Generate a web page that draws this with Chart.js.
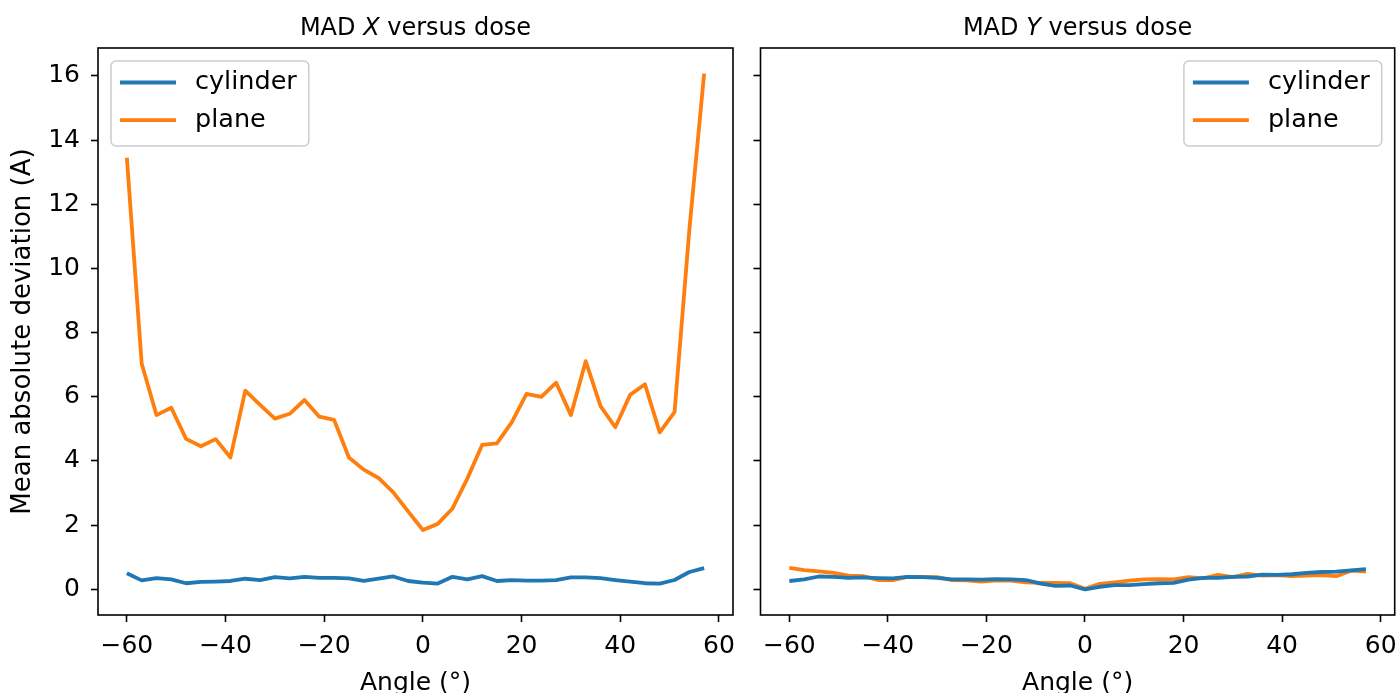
<!DOCTYPE html>
<html><head><meta charset="utf-8">
<script src="https://cdn.jsdelivr.net/npm/chart.js@4/dist/chart.umd.min.js"></script>
<style>
html,body{margin:0;padding:0;background:#fff;overflow:hidden}
#wrap{position:relative;width:1399px;height:693px;background:#fff}
.c{position:absolute;top:0;height:693px}
canvas{display:block}
</style></head><body>
<div id="wrap">
<div class="c" style="left:0;width:745px"><canvas id="left" width="745" height="693"></canvas></div>
<div class="c" style="left:745px;width:654px"><canvas id="right" width="654" height="693"></canvas></div>
</div>
<script>
// ---- data ----
const angles = [-60,-57,-54,-51,-48,-45,-42,-39,-36,-33,-30,-27,-24,-21,-18,-15,-12,-9,-6,-3,
                0,3,6,9,12,15,18,21,24,27,30,33,36,39,42,45,48,51,54,57];
const cylinderX = [0.50,0.28,0.35,0.31,0.19,0.23,0.24,0.26,0.33,0.29,
                   0.38,0.34,0.39,0.36,0.36,0.34,0.26,0.33,0.40,0.26,
                   0.21,0.18,0.39,0.31,0.41,0.26,0.29,0.27,0.27,0.29,
                   0.37,0.37,0.35,0.29,0.24,0.19,0.18,0.29,0.54,0.66];
const planeX = [13.45,7.04,5.43,5.66,4.69,4.46,4.68,4.11,6.19,5.75,
                5.32,5.47,5.90,5.38,5.28,4.11,3.73,3.47,3.02,2.43,
                1.85,2.04,2.52,3.45,4.50,4.55,5.20,6.09,6.00,6.44,
                5.43,7.11,5.71,5.05,6.06,6.39,4.89,5.52,11.2,16.07];
const cylinderY = [0.26,0.31,0.40,0.39,0.36,0.37,0.35,0.34,0.39,0.38,
                   0.36,0.31,0.31,0.30,0.32,0.31,0.29,0.18,0.11,0.12,
                   0.00,0.08,0.13,0.13,0.16,0.19,0.20,0.30,0.36,0.36,
                   0.39,0.40,0.46,0.45,0.47,0.51,0.54,0.55,0.59,0.63];
const planeY = [0.67,0.60,0.56,0.51,0.43,0.41,0.29,0.29,0.39,0.39,
                0.38,0.29,0.28,0.24,0.28,0.27,0.22,0.20,0.20,0.19,
                0.02,0.17,0.22,0.27,0.31,0.32,0.31,0.38,0.34,0.45,
                0.38,0.48,0.43,0.44,0.41,0.43,0.44,0.41,0.58,0.55];
const xTicks = [-60,-40,-20,0,20,40,60];
const yTicks = [0,2,4,6,8,10,12,14,16];
const seriesNames = ['cylinder','plane'];
const seriesColors = ['#1f77b4','#ff7f0e'];
const titleLeft = ['MAD ','X',' versus dose'];
const titleRight = ['MAD ','Y',' versus dose'];
const xLabel = 'Angle (°)';
const yLabel = 'Mean absolute deviation (A)';

// ---- helpers ----
const FONT = '"DejaVu Sans", sans-serif';
const fmt = v => v < 0 ? '\u2212' + Math.abs(v) : String(v);
const pts = vals => angles.map((a, i) => ({x: a, y: vals[i]}));

const framePlugin = {
  id: 'frame',
  afterDatasetsDraw(chart) {
    const {ctx, chartArea: a} = chart;
    ctx.save();
    ctx.strokeStyle = '#000'; ctx.lineWidth = 1.6;
    ctx.strokeRect(a.left, a.top, a.right - a.left, a.bottom - a.top);
    ctx.restore();
  }
};
const titlePlugin = {
  id: 'mixTitle',
  afterDraw(chart, args, opts) {
    const {ctx, chartArea: a} = chart;
    const parts = opts.parts;
    ctx.save();
    const fonts = parts.map((p, i) => (i === 1 ? 'italic ' : '') + '24px ' + FONT);
    let total = 0;
    const widths = parts.map((p, i) => { ctx.font = fonts[i]; const w = ctx.measureText(p).width; total += w; return w; });
    let x = (a.left + a.right) / 2 - total / 2;
    ctx.fillStyle = '#000'; ctx.textBaseline = 'alphabetic'; ctx.textAlign = 'left';
    parts.forEach((p, i) => { ctx.font = fonts[i]; ctx.fillText(p, x, 34.5); x += widths[i]; });
    ctx.restore();
  }
};
const legendPlugin = {
  id: 'boxLegend',
  afterDraw(chart, args, opts) {
    const {ctx, chartArea: a} = chart;
    ctx.save();
    ctx.font = '25.5px ' + FONT;
    const tw = Math.max(...chart.data.datasets.map(d => ctx.measureText(d.label).width));
    const w = 9 + 56 + 19 + tw + 12, h = 85;
    const x = opts.side === 'left' ? a.left + 13 : a.right - 13 - w;
    const y = a.top + 13;
    ctx.beginPath();
    ctx.roundRect(x, y, w, h, 5);
    ctx.fillStyle = 'rgba(255,255,255,0.8)'; ctx.fill();
    ctx.strokeStyle = '#cccccc'; ctx.lineWidth = 1.5; ctx.stroke();
    chart.data.datasets.forEach((d, i) => {
      const cy = y + 21.5 + i * 37.7;
      ctx.strokeStyle = d.borderColor; ctx.lineWidth = 3.8;
      ctx.beginPath(); ctx.moveTo(x + 9, cy); ctx.lineTo(x + 65, cy); ctx.stroke();
      ctx.fillStyle = '#000'; ctx.textBaseline = 'middle'; ctx.textAlign = 'left';
      ctx.fillText(d.label, x + 84, cy);
    });
    ctx.restore();
  }
};

function makeChart(id, cyl, pla, side, titleParts, yWidth, padRight) {
  const isLeft = side === 'left';
  return new Chart(document.getElementById(id), {
    type: 'line',
    data: {
      datasets: [
        {label: seriesNames[0], data: pts(cyl), borderColor: seriesColors[0], backgroundColor: seriesColors[0]},
        {label: seriesNames[1], data: pts(pla), borderColor: seriesColors[1], backgroundColor: seriesColors[1]}
      ]
    },
    options: {
      responsive: false, animation: false, devicePixelRatio: 1,
      parsing: false,
      elements: {line: {borderWidth: 3.8, tension: 0, borderCapStyle: 'butt', borderJoinStyle: 'round'}, point: {radius: 0}},
      layout: {padding: {left: 0, right: padRight, top: 48, bottom: 0}},
      plugins: {legend: {display: false}, tooltip: {enabled: false}, title: {display: false},
                mixTitle: {parts: titleParts}, boxLegend: {side: isLeft ? 'left' : 'right'}},
      scales: {
        x: {
          type: 'linear', min: -65.85, max: 62.85,
          afterBuildTicks: s => { s.ticks = xTicks.map(v => ({value: v})); },
          ticks: {font: {size: 25, family: FONT}, color: '#000', padding: 9, maxRotation: 0, autoSkip: false, callback: fmt},
          grid: {drawOnChartArea: false, drawTicks: true, tickLength: 7, tickWidth: 1.6, tickColor: '#000'},
          border: {display: false},
          title: {display: true, text: xLabel, color: '#000', font: {size: 25, family: FONT, lineHeight: 1}, padding: {top: 0, bottom: -3}},
          afterFit: s => { s.height = 78; s.paddingLeft = 0; s.paddingRight = 0; }
        },
        y: {
          type: 'linear', min: -0.80, max: 16.87,
          afterBuildTicks: s => { s.ticks = yTicks.map(v => ({value: v})); },
          ticks: {display: isLeft, font: {size: 25, family: FONT}, color: '#000', padding: 11, callback: fmt},
          grid: {drawOnChartArea: false, drawTicks: true, tickLength: 7, tickWidth: 1.6, tickColor: '#000'},
          border: {display: false},
          title: {display: isLeft, text: yLabel, color: '#000', font: {size: 26, family: FONT, lineHeight: 1}, padding: {top: 10, bottom: 0}},
          afterFit: s => { s.width = yWidth; s.paddingTop = 0; s.paddingBottom = 0; }
        }
      }
    },
    plugins: [framePlugin, titlePlugin, legendPlugin]
  });
}

makeChart('left', cylinderX, planeX, 'left', titleLeft, 98, 12);
makeChart('right', cylinderY, planeY, 'right', titleRight, 15.5, 4.3);
</script>
</body></html>
